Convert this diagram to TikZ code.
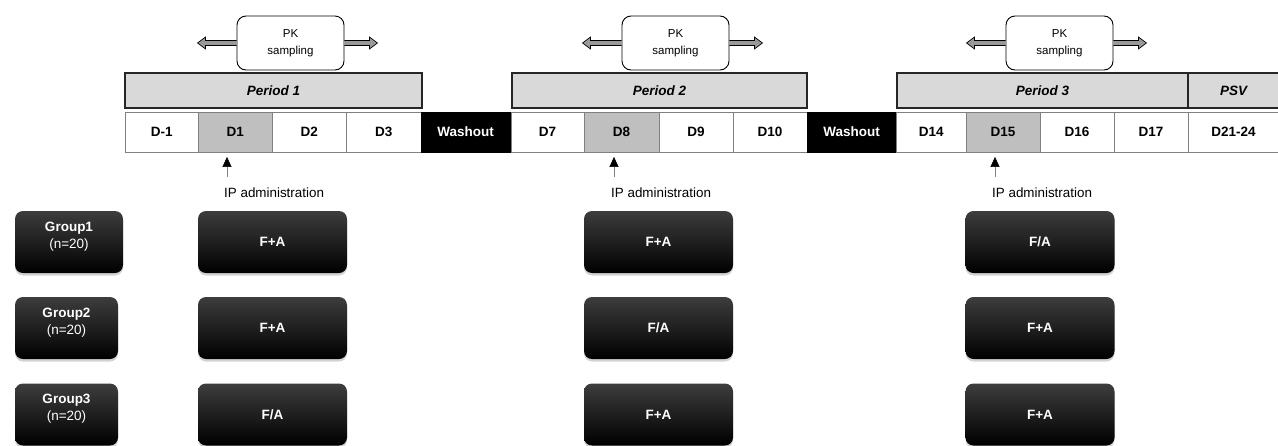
\documentclass[tikz,border=0pt]{standalone}
\usepackage{fontspec}
\setmainfont{Liberation Sans}
\usetikzlibrary{arrows.meta,shadows,calc}
\definecolor{periodgray}{HTML}{D9D9D9}
\definecolor{dosegray}{HTML}{BFBFBF}
\definecolor{cellline}{HTML}{808080}
\newcommand\mydaycell[5]{%
  \node[cell, fill=#4, minimum width={#3-#2}] (#1) at ({(#2+#3)/2},132) {#5};}
\newcommand\myperiod[4]{%
  \node[periodbox, minimum width={#3-#2}] (#1) at ({(#2+#3)/2},90.5) {#4};}
\newcommand\mypk[2]{%
  \node[pkbox] (#1) at (#2,43) {PK\\sampling};
  \draw[pkarrow] ($(#1.west)+(0,-2.5)$) -- ($(#1.west)+(-31,-2.5)$) -- ($(#1.west)+(-31,-6)$)
     -- ($(#1.west)+(-39,0)$) -- ($(#1.west)+(-31,6)$) -- ($(#1.west)+(-31,2.5)$) -- ($(#1.west)+(0,2.5)$);
  \draw[pkarrow] ($(#1.east)+(0,-2.5)$) -- ($(#1.east)+(25,-2.5)$) -- ($(#1.east)+(25,-6)$)
     -- ($(#1.east)+(33,0)$) -- ($(#1.east)+(25,6)$) -- ($(#1.east)+(25,2.5)$) -- ($(#1.east)+(0,2.5)$);}
\newcommand\myip[3]{%
  \node[iplab, anchor=west] (#1) at (#2-3,193) {IP administration};
  \coordinate (#1b) at (#2,177);
  \draw[iparrow] (#1b) -- (#1b |- #3.south);}
\begin{document}
\begin{tikzpicture}[x=1pt,y=-1pt,
  cell/.style={draw=cellline, line width=0.8pt, inner sep=0pt, minimum height=40pt,
    font=\fontsize{13.5}{15}\selectfont\bfseries},
  periodbox/.style={draw=black!85, line width=1.1pt, fill=periodgray, inner sep=0pt,
    minimum height=35pt, font=\fontsize{13.5}{15}\selectfont\bfseries\itshape},
  pkbox/.style={draw=black, line width=0.9pt, fill=white, rounded corners=9pt,
    minimum width=107pt, minimum height=54pt, inner sep=0pt, align=center,
    font=\fontsize{11.5}{17}\selectfont},
  pkarrow/.style={draw=black, line width=0.7pt, fill=black!40},
  iplab/.style={inner sep=0pt, font=\fontsize{13.4}{15}\selectfont},
  iparrow/.style={draw=gray, line width=0.6pt, shorten >=4.5pt,
    -{Triangle[length=10pt,width=9pt,color=black]}},
  blk/.style={rounded corners=8pt, top color=black!76, middle color=black!96, bottom color=black,
    draw=none, inner sep=0pt, minimum height=62pt, text=white,
    drop shadow={opacity=0.35, shadow xshift=0pt, shadow yshift=-2.5pt}},
  trt/.style={blk, minimum width=149pt, font=\fontsize{13.5}{15}\selectfont\bfseries},
  grp/.style={blk},
  grptext/.style={text=white, align=center, inner sep=0pt, font=\fontsize{13.5}{17}\selectfont},
]
\useasboundingbox (0,0) rectangle (1278,445);

% PK sampling
\mypk{pk1}{290.5}
\mypk{pk2}{675.5}
\mypk{pk3}{1059.5}

% periods
\myperiod{p1}{125}{422}{Period 1}
\myperiod{p2}{512}{807}{Period 2}
\myperiod{p3}{897}{1188}{Period 3}
\myperiod{psv}{1188}{1279}{PSV}

% day row
\mydaycell{dm1}{125}{198.5}{white}{D-1}
\mydaycell{d1}{198.5}{272}{dosegray}{D1}
\mydaycell{d2}{272}{346.5}{white}{D2}
\mydaycell{d3}{346.5}{421}{white}{D3}
\node[cell, draw=black, fill=black, text=white, minimum width=89pt] (w1) at (465.5,132) {Washout};
\mydaycell{d7}{511}{584}{white}{D7}
\mydaycell{d8}{584}{659}{dosegray}{D8}
\mydaycell{d9}{659}{733}{white}{D9}
\mydaycell{d10}{733}{807}{white}{D10}
\node[cell, draw=black, fill=black, text=white, minimum width=89pt] (w2) at (851.5,132) {Washout};
\mydaycell{d14}{896.5}{966}{white}{D14}
\mydaycell{d15}{966}{1040}{dosegray}{D15}
\mydaycell{d16}{1040}{1114}{white}{D16}
\mydaycell{d17}{1114}{1188}{white}{D17}
\mydaycell{d21}{1188}{1279}{white}{D21-24}

% IP administration
\myip{ip1}{227}{d1}
\myip{ip2}{614}{d8}
\myip{ip3}{995}{d15}

% groups
\node[grp, minimum width=108pt] (g1) at (69,242) {};
\node[grptext] (g1t) at (69,236.5) {\textbf{Group1}\\(n=20)};
\node[grp, minimum width=103pt] (g2) at (66.5,328) {};
\node[grptext] (g2t) at (66.5,323) {\textbf{Group2}\\(n=20)};
\node[grp, minimum width=103pt] (g3) at (66.5,414.5) {};
\node[grptext] (g3t) at (66.5,409) {\textbf{Group3}\\(n=20)};

% treatments
\node[trt] (t11) at (272.5,242) {F+A};
\node[trt] (t12) at (658.5,242) {F+A};
\node[trt] (t13) at (1040,242) {F/A};
\node[trt] (t21) at (272.5,328) {F+A};
\node[trt] (t22) at (658.5,328) {F/A};
\node[trt] (t23) at (1040,328) {F+A};
\node[trt] (t31) at (272.5,414.5) {F/A};
\node[trt] (t32) at (658.5,414.5) {F+A};
\node[trt] (t33) at (1040,414.5) {F+A};
\end{tikzpicture}
\end{document}
